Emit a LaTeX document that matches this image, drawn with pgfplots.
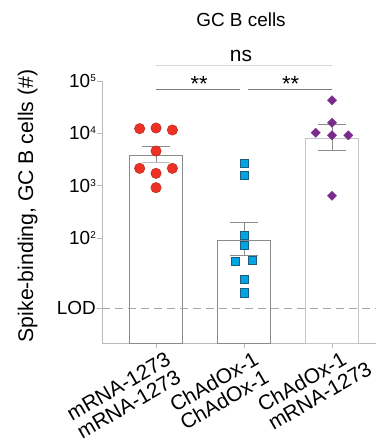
\documentclass[border=0pt]{standalone}
\usepackage{pgfplots}
\pgfplotsset{compat=1.18}
\usepackage{fontspec}
\setmainfont{Liberation Sans}
\usetikzlibrary{calc}
\definecolor{mred}{HTML}{EE3124}
\definecolor{mrededge}{HTML}{B52A1E}
\definecolor{mblue}{HTML}{00A6E2}
\definecolor{mblueedge}{HTML}{1F5C82}
\definecolor{mpurple}{HTML}{7A2C8C}
\definecolor{axisgray}{HTML}{B8B8B8}
\definecolor{bardark}{HTML}{8A8A8A}
\definecolor{barlight}{HTML}{C6C6C6}
\definecolor{errgray}{HTML}{8C8C8C}
\definecolor{sigdark}{HTML}{7A7A7A}
\definecolor{siglight}{HTML}{D8D8D8}
\newcommand\sups[1]{\raisebox{6.3bp}{\fontsize{10}{10}\selectfont #1}}
\newcommand\xfont{\fontsize{21}{24}\selectfont}
\begin{document}
\begin{tikzpicture}
\begin{axis}[
  scale only axis, width=274bp, height=262bp,
  xmin=-0.614, xmax=2.5, ymin=1, ymax=1e5, ymode=log,
  axis x line*=bottom, axis y line*=left,
  axis line style={draw=axisgray, line width=0.9bp},
  xtick={0,1,2}, xticklabels={},
  ytick={4.6,100,1000,10000,100000},
  yticklabels={LOD,10\sups{2},10\sups{3},10\sups{4},10\sups{5}},
  yminorticks=false,
  tick style={draw=axisgray, line width=0.9bp},
  tick align=outside, major tick length=5bp,
  yticklabel style={font=\fontsize{19}{22}\selectfont, anchor=east, inner sep=1bp},
  clip=false,
]
\coordinate (O) at (rel axis cs:0,0);
% bars
\addplot[ybar, bar width=53bp, bar shift=0pt, fill=white, draw=bardark, line width=0.9bp] coordinates {(0,3814) (1,92.4)};
\addplot[ybar, bar width=53bp, bar shift=0pt, fill=white, draw=barlight, line width=0.9bp] coordinates {(2,8050)};
% LOD line
\addplot[draw=axisgray!90!black, line width=0.8bp, dash pattern=on 8bp off 5bp] coordinates {(-0.614,4.6) (2.5,4.6)};
% error bars
\addplot[errgray, line width=0.9bp] coordinates {(0,2763) (0,5662)};
\addplot[errgray, line width=0.9bp] coordinates {(-0.155,5662) (0.155,5662)};
\addplot[errgray!60, line width=0.9bp] coordinates {(-0.155,2763) (0.155,2763)};
\addplot[errgray, line width=0.9bp] coordinates {(1,46.4) (1,201)};
\addplot[errgray, line width=0.9bp] coordinates {(0.845,201) (1.155,201)};
\addplot[errgray, line width=0.9bp] coordinates {(0.845,46.4) (1.155,46.4)};
\addplot[errgray, line width=0.9bp] coordinates {(2,4820) (2,14890)};
\addplot[errgray, line width=0.9bp] coordinates {(1.845,14890) (2.155,14890)};
\addplot[errgray, line width=0.9bp] coordinates {(1.845,4820) (2.155,4820)};
% points
\addplot[only marks, mark=*, mark size=5.2bp, mark options={fill=mred, draw=mrededge, line width=0.5bp}] coordinates {
 (-0.186,12310) (0,12680) (0.186,11610) (0,4613) (-0.186,2154) (0,1729) (0.186,2154) (0,921)};
\addplot[only marks, mark=square*, mark size=4.1bp, mark options={fill=mblue, draw=mblueedge, line width=0.6bp}] coordinates {
 (1,2687) (1,1607) (1,115) (1,72) (0.905,36.7) (1.095,38.4) (1,16.4) (1,9.1)};
\addplot[only marks, mark=square*, mark size=3.3bp, mark options={fill=mpurple, draw=mpurple, line width=0.3bp, rotate=45}] coordinates {
 (2,42760) (2,16030) (1.815,10330) (2,9180) (2.185,9180) (2,648)};
% significance
\draw[siglight, line width=0.9bp] (axis cs:0,201900) -- (axis cs:2,201900);
\draw[sigdark, line width=0.9bp] (axis cs:0,69340) -- (axis cs:0.951,69340);
\draw[sigdark, line width=0.9bp] (axis cs:1.049,69340) -- (axis cs:2,69340);
\node[anchor=base, font=\fontsize{21}{24}\selectfont, inner sep=0pt] at (axis cs:0.966,233500) {ns};
\node[anchor=base, font=\fontsize{22}{24}\selectfont, inner sep=0pt] at (axis cs:0.489,63000) {**};
\node[anchor=base, font=\fontsize{22}{24}\selectfont, inner sep=0pt] at (axis cs:1.531,63000) {**};
% title
\node[anchor=base, font=\fontsize{19}{22}\selectfont, inner sep=0pt] at (axis cs:0.966,1.087e6) {GC B cells};
% y label
\node[anchor=base, rotate=90, font=\fontsize{21.3}{24}\selectfont, inner sep=0pt] at (axis cs:-1.398,412) {Spike-binding, GC B cells (\#)};
% x labels
\node[rotate=30, anchor=base east, font=\xfont, inner sep=0pt] (a1) at ($(axis cs:0,1)+(16bp,-21bp)$) {mRNA-1273};
\node[rotate=30, anchor=base west, font=\xfont, inner sep=0pt] at ($(a1.base west)+(10.3bp,-17.8bp)$) {mRNA-1273};
\node[rotate=30, anchor=base east, font=\xfont, inner sep=0pt] (a2) at ($(axis cs:1,1)+(16bp,-21bp)$) {ChAdOx-1};
\node[rotate=30, anchor=base west, font=\xfont, inner sep=0pt] at ($(a2.base west)+(10.3bp,-17.8bp)$) {ChAdOx-1};
\node[rotate=30, anchor=base east, font=\xfont, inner sep=0pt] (a3) at ($(axis cs:2,1)+(16bp,-21bp)$) {ChAdOx-1};
\node[rotate=30, anchor=base west, font=\xfont, inner sep=0pt] at ($(a3.base west)+(10.3bp,-17.8bp)$) {mRNA-1273};
\end{axis}
\pgfresetboundingbox
\path ($(O)+(-102bp,-101bp)$) rectangle ($(O)+(274bp,343bp)$);
\end{tikzpicture}
\end{document}
